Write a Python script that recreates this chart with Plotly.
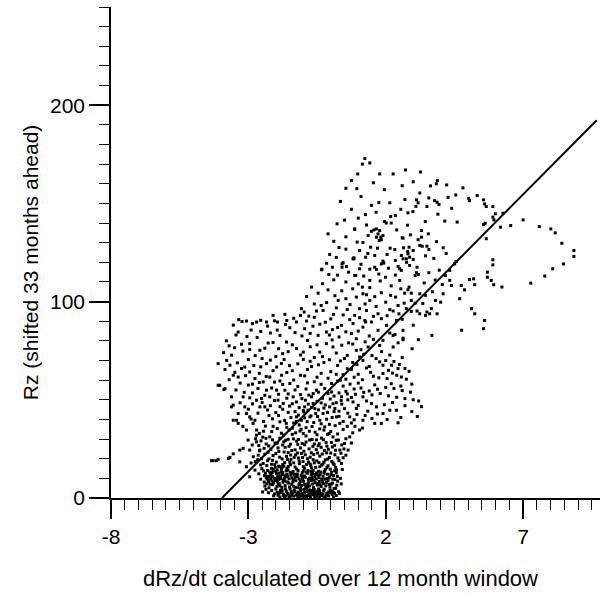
import plotly.graph_objects as go

# ---- data (x = dRz/dt, y = Rz shifted 33 months) ----
pts_base = [
    (-2.05,2.1),(-1.92,1.4),(-1.80,2.8),(-1.71,1.2),(-1.62,3.5),(-1.55,1.9),(-1.47,0.9),(-1.40,2.6),(-1.33,4.1),(-1.26,1.5),
    (-1.18,3.0),(-1.12,0.8),(-1.05,2.2),(-0.98,4.4),(-0.92,1.1),(-0.86,3.3),(-0.80,2.0),(-0.74,0.7),(-0.68,3.8),(-0.62,1.6),
    (-0.56,2.9),(-0.50,0.9),(-0.44,4.6),(-0.38,2.3),(-0.32,1.2),(-0.26,3.6),(-0.20,0.6),(-0.14,2.5),(-0.08,1.0),(-0.02,3.9),
    (0.05,1.8),(0.12,4.8),(0.22,6.5),(0.28,3.2),
    (-2.25,5.2),(-2.12,6.8),(-2.00,4.6),(-1.88,7.5),(-1.78,5.4),(-1.66,6.3),(-1.58,8.2),(-1.50,5.6),(-1.42,7.0),(-1.35,6.0),
    (-1.27,8.8),(-1.20,5.2),(-1.13,7.4),(-1.06,6.4),(-0.99,8.5),(-0.91,5.7),(-0.84,7.2),(-0.77,6.1),(-0.70,9.0),(-0.63,5.3),
    (-0.57,7.8),(-0.49,6.6),(-0.42,8.4),(-0.35,5.9),(-0.27,7.3),(-0.18,6.2),(-0.10,8.9),(-0.03,5.5),(0.06,7.6),(0.15,9.4),
    (-2.55,9.6),(-2.42,8.1),(-2.35,10.5),(-2.28,9.1),(-2.20,11.8),(-2.14,8.6),(-2.06,10.2),(-1.98,12.4),(-1.90,9.5),(-1.83,11.1),
    (-1.75,13.0),(-1.69,10.0),(-1.60,12.0),(-1.52,9.8),(-1.45,11.6),(-1.37,13.5),(-1.30,10.4),(-1.22,12.2),(-1.15,9.7),(-1.08,11.5),
    (-1.00,13.8),(-0.93,10.6),(-0.85,12.6),(-0.78,10.1),(-0.71,11.9),(-0.64,14.0),(-0.58,10.8),(-0.51,12.8),(-0.43,10.3),(-0.36,13.2),
    (-0.28,11.0),(-0.20,14.4),(-0.12,12.1),(-0.05,10.5),(0.03,13.1),(0.10,11.4),(0.20,12.8),(0.35,10.0),
    (-2.38,12.6),(-2.30,14.0),(-2.22,13.2),(-2.16,15.1),(-2.09,13.9),(-2.02,15.6),(-1.95,14.3),(-1.86,15.9),(-1.79,14.6),(-1.71,16.2),
    (-2.45,13.8),(-2.33,7.2),(-2.18,9.9),(-1.94,8.3),(-1.72,9.0),
    (-1.85,0.5),(-1.52,0.3),(-1.20,0.4),(-0.88,0.3),(-0.58,0.4),(-0.25,0.3),(0.10,0.5),(-1.68,0.6),(-1.00,0.6),(-0.40,0.7),
    (0.32,2.4),(0.38,7.2),
    (-2.48,3.1),(-2.36,4.4),(-2.27,2.7),(-2.15,3.8),(-2.08,1.1),(-1.96,5.9),(-1.83,3.9),(-1.74,8.0),(-1.65,4.7),(-1.53,7.6),
    (-1.44,3.2),(-1.36,9.3),(-1.29,5.5),(-1.16,6.8),(-1.09,3.6),(-1.03,9.8),(-0.95,6.9),(-0.88,4.8),(-0.82,9.5),(-0.75,3.0),
    (-0.66,7.1),(-0.60,4.2),(-0.53,9.7),(-0.46,2.0),(-0.39,6.8),(-0.33,9.6),(-0.24,4.5),(-0.16,8.0),(-0.07,3.2),(0.01,7.0),
    (0.09,2.9),(0.18,5.0),(0.25,8.6),
    (-2.30,11.0),(-2.18,12.0),(-2.10,14.6),(-2.00,13.6),(-1.88,12.6),(-1.78,15.4),(-1.62,13.8),(-1.55,16.0),(-2.26,8.3),(-2.08,7.6),
    (-1.97,9.9),(-1.85,6.2),(-1.60,10.8),(-1.38,8.2),(-1.22,10.9),(-0.96,11.2),(-0.68,10.4),(-0.46,11.7),(-0.22,9.6),(0.00,11.9),
    (-1.15,1.9),(-0.95,2.9),(-0.70,1.8),(-0.48,3.4),(-0.17,1.5),(0.05,3.4),(-1.58,2.4),(-1.35,1.0),(-1.77,3.8),(-1.95,3.0),
    (-2.40,6.1),(-2.32,9.8),(-2.21,7.0),(-2.13,10.9),(-2.03,8.9),(-1.91,6.8),(-1.82,9.8),(-1.76,11.9),(-1.67,8.6),(-1.57,11.2),
    (-1.48,13.1),(-1.41,10.2),(-1.32,12.0),(-1.19,13.9),(-1.11,8.4),(-1.01,10.9),(-0.90,13.2),(-0.80,8.0),(-0.72,13.5),(-0.61,9.1),
    (-0.55,12.0),(-0.47,7.4),(-0.39,11.9),(-0.30,8.4),(-0.23,13.6),(-0.13,9.9),(-0.06,7.0),(0.07,9.6),(0.14,13.9),(0.24,11.0),
    (-1.89,2.3),(-1.73,2.0),(-1.64,1.0),(-1.43,1.7),(-1.30,3.1),(-1.22,2.1),(-1.02,1.3),(-0.83,1.2),(-0.77,4.1),(-0.65,2.6),
    (-0.52,2.0),(-0.41,3.6),(-0.29,2.1),(-0.11,1.8),(-0.04,2.7),(0.14,2.4),(0.20,1.3),(-1.48,4.6),(-1.10,4.9),(-0.85,5.9),
]

pts_low = [
    (-2.95,24.4),(-2.90,17.8),(-2.82,21.0),(-2.76,14.2),(-2.70,28.6),(-2.66,19.5),(-2.60,24.0),(-2.55,16.8),(-2.48,31.0),(-2.46,17.6),
    (-2.40,22.3),(-2.35,27.5),(-2.30,19.0),(-2.22,31.1),(-2.18,24.8),(-2.16,17.2),(-2.10,21.6),(-2.03,28.0),(-1.98,18.3),(-1.92,25.5),
    (-1.86,20.8),(-1.80,33.0),(-1.75,17.0),(-1.70,23.4),(-1.64,29.4),(-1.58,19.6),(-1.52,26.3),(-1.46,21.9),(-1.40,32.4),(-1.35,17.9),
    (-1.30,24.5),(-1.24,28.9),(-1.18,20.4),(-1.12,34.1),(-1.07,22.7),(-1.01,18.6),(-0.95,27.1),(-0.90,31.6),(-0.85,20.0),(-0.79,25.0),
    (-0.73,16.5),(-0.68,29.8),(-0.62,22.2),(-0.57,33.5),(-0.51,18.9),(-0.46,26.6),(-0.40,21.3),(-0.34,30.5),(-0.29,17.3),(-0.23,24.2),
    (-0.17,28.3),(-0.11,19.8),(-0.06,32.8),(0.00,22.9),(0.06,26.0),(0.12,17.0),(0.21,14.2),(0.33,24.4),(0.39,17.6),(0.50,27.8),
    (0.63,24.4),(0.08,31.1),(0.69,31.1),(0.45,20.5),(0.28,29.5),(-3.07,15.9),(-2.95,10.8),(-3.31,18.4),(-3.19,25.3),(-3.01,29.5),
    (-2.70,32.0),(-2.58,24.4),(-2.45,34.0),(-3.31,24.4),(-3.73,20.2),(-4.34,19.0),(-4.16,19.0),(-4.28,19.0),(-4.10,19.7),(-3.67,20.7),
    (-3.55,22.5),(-1.90,16.2),(-1.60,15.0),(-1.30,15.8),(-1.00,16.0),(-0.70,15.3),(-0.40,15.9),(-0.10,16.4),(-2.25,19.9),(-1.55,23.1),
    (-0.98,23.8),(-0.35,25.8),(-1.20,27.2),(-0.60,27.5),(-1.75,27.0),(-0.05,20.6),(0.15,22.0),
    (-2.62,12.3),(-2.51,14.9),(-2.41,11.4),(-2.33,16.5),(-2.24,10.7),(-2.13,12.9),(-2.04,17.0),(-1.93,10.9),(-1.81,13.3),(-1.67,11.3),
    (-1.56,14.3),(-1.47,16.9),(-1.39,12.6),(-1.25,14.8),(-1.14,17.5),(-1.04,12.8),(-0.96,15.2),(-0.83,14.0),(-0.75,17.3),(-0.66,12.4),
    (-0.55,15.6),(-0.45,13.6),(-0.33,16.7),(-0.24,12.6),(-0.14,15.4),(-0.02,14.7),(0.08,17.8),(0.18,15.6),(0.30,19.0),(0.42,14.5),
    (-2.75,18.5),(-2.64,21.8),(-2.52,20.0),(-2.43,25.3),(-2.28,23.3),(-2.12,19.2),(-2.00,22.6),(-1.89,23.7),(-1.77,19.9),(-1.66,25.8),
    (-1.61,21.2),(-1.49,18.2),(-1.42,24.2),(-1.33,20.7),(-1.21,22.9),(-1.10,25.5),(-1.03,20.6),(-0.93,22.0),(-0.81,18.3),(-0.71,23.0),
    (-0.64,19.5),(-0.53,24.6),(-0.43,18.0),(-0.31,22.4),(-0.20,19.4),(-0.09,24.8),(0.04,18.6),(0.17,24.3),(0.26,20.4),(0.37,22.8),
    (0.55,21.8),(0.48,25.0),
    (-2.86,27.0),(-2.74,30.2),(-2.62,26.7),(-2.54,29.1),(-2.36,30.4),(-2.26,26.5),(-2.12,29.6),(-1.95,27.9),(-1.86,30.5),(-1.71,28.6),
    (-1.55,29.9),(-1.47,27.4),(-1.36,30.1),(-1.18,29.8),(-1.04,27.8),(-0.90,28.5),(-0.77,29.5),(-0.65,26.3),(-0.52,29.6),(-0.42,27.6),
    (-0.27,29.7),(-0.14,26.4),(0.02,28.3),(0.14,26.8),(0.20,29.4),(0.40,27.0),(0.55,30.2),(0.75,28.0),
    (-1.45,19.7),(-1.15,18.9),(-0.88,17.0),(-0.60,17.9),(-0.25,18.2),(-1.28,22.0),(-0.75,20.8),(-0.48,22.9),(-0.15,23.0),(-1.68,18.0),
]

pts_midlow = [
    (-3.61,46.4),(-3.55,39.6),(-3.37,38.0),(-3.55,47.3),(-3.61,51.5),(-3.19,51.5),(-3.13,46.4),(-3.37,43.0),(-3.43,39.6),(-2.95,41.3),
    (-2.83,38.0),(-3.07,34.6),(-2.70,49.8),(-2.40,46.4),(-2.22,51.5),(-1.97,54.9),(-1.92,49.8),(-1.73,48.1),(-1.67,54.9),(-1.49,58.3),
    (-1.37,51.5),(-1.25,48.9),(-0.95,46.4),(-0.83,44.7),(-1.25,41.3),(-1.07,39.6),(-0.64,53.2),(-0.52,54.9),(-0.10,53.2),(0.03,54.0),
    (0.39,51.5),(0.81,48.9),(1.17,51.5),(1.48,48.1),(1.66,46.4),(2.15,44.7),(2.39,44.7),(0.03,58.3),(-0.64,48.1),(-0.28,43.0),
    (-0.04,46.4),(-0.76,41.3),(-0.40,39.6),(-0.22,36.2),(0.21,41.3),(0.33,38.0),(0.69,41.3),(0.93,45.6),(1.17,39.6),(1.60,38.0),
    (1.84,38.0),(2.45,38.3),(1.90,43.0),(1.05,34.6),(-3.07,43.0),(-2.76,39.6),(-2.58,46.4),(-2.52,50.7),(-2.34,54.9),(-2.70,34.6),
    (-4.10,57.4),(-3.89,55.2),(-4.04,57.4),(-3.85,55.7),
    (-2.10,36.5),(-1.85,38.8),(-1.60,36.0),(-1.45,41.0),(-1.15,37.2),(-0.90,35.8),(-0.62,38.4),(-0.45,44.9),(-0.15,40.1),(0.12,44.0),
    (0.50,45.5),(0.60,36.5),(-2.00,43.5),(-1.75,45.2),(-1.50,46.8),(-1.05,50.6),(-0.80,52.4),(-0.30,50.8),(0.20,48.5),(0.55,54.3),
    (0.85,55.5),(1.10,56.0),(1.40,54.5),(1.70,55.4),(2.00,56.3),(2.30,55.8),(2.60,54.7),(2.90,53.9),(-2.25,42.0),(-1.30,44.0),
    (-0.05,37.5),(0.95,42.5),(1.35,44.2),(-2.85,53.5),(-3.00,57.5),(-2.60,58.8),(-2.05,59.0),(-1.20,56.8),(-0.85,58.6),(-0.35,57.9),
    (0.25,59.5),(0.70,58.0),(0.30,53.5),(0.60,53.0),(0.90,52.8),(1.20,53.8),(1.50,52.5),(1.80,53.2),(2.10,52.0),(2.40,51.3),
    (2.70,50.6),(3.00,50.0),(3.20,49.4),(2.70,47.0),(2.95,44.0),(3.15,41.5),(2.55,41.0),(3.30,46.5),
    (-2.60,32.9),(-2.38,36.6),(-2.15,33.8),(-1.95,35.4),(-1.72,32.1),(-1.52,34.6),(-1.28,33.2),(-1.00,32.9),(-0.78,34.0),(-0.50,32.2),
    (-0.25,34.6),(0.00,33.8),(0.25,32.6),(0.45,34.9),(0.80,33.2),(1.15,35.6),
    (-3.20,36.5),(-2.90,40.2),(-2.65,43.2),(-2.45,39.0),(-2.30,44.8),(-2.12,40.3),(-1.90,42.0),(-1.68,39.5),(-1.55,43.6),(-1.35,38.2),
    (-1.18,42.2),(-0.98,43.8),(-0.86,38.9),(-0.72,41.8),(-0.55,43.0),(-0.35,37.8),(-0.12,43.6),(0.05,41.0),(0.30,44.2),(0.45,39.0),
    (0.75,38.2),(0.88,36.5),(1.25,42.0),(1.50,40.5),(1.70,42.8),(2.05,40.0),
    (-3.30,48.5),(-3.00,45.2),(-2.85,47.9),(-2.50,48.6),(-2.20,47.0),(-2.05,49.6),(-1.85,46.5),(-1.60,50.8),(-1.40,48.0),(-1.15,46.0),
    (-0.92,49.8),(-0.70,46.2),(-0.50,49.2),(-0.20,47.4),(-0.02,50.4),(0.15,45.6),(0.40,47.8),(0.62,50.0),(1.00,47.2),(1.30,49.4),
    (1.95,47.5),(2.25,48.6),
    (-3.45,55.0),(-3.15,53.8),(-2.95,51.0),(-2.65,55.8),(-2.40,52.3),(-2.15,56.0),(-1.90,52.8),(-1.75,57.8),(-1.55,53.0),(-1.30,55.0),
    (-1.10,52.6),(-0.90,55.5),(-0.70,51.5),(-0.45,53.9),(-0.22,55.8),(0.12,51.9),(0.45,57.0),(0.75,51.2),(1.00,58.5),(1.60,57.6),
    (2.20,58.2),(2.55,57.0),
    (-1.40,35.5),(-1.08,35.0),(-0.68,36.4),(-0.40,35.2),(-0.12,32.4),(0.16,36.8),(-0.95,40.8),(-0.48,41.5),(-0.25,45.8),(0.08,48.0),
    (-1.62,38.0),(-1.25,39.0),(-0.82,47.8),(-0.58,45.5),(0.30,41.6),(0.62,43.2),(0.38,49.6),(-0.35,48.4),(-1.00,44.5),(0.85,39.8),
]

pts_mid = [
    (-4.10,68.4),(-3.79,70.1),(-3.61,72.7),(-3.67,67.6),(-3.25,65.9),(-3.13,66.7),(-2.95,64.2),(-3.37,61.6),(-2.76,60.8),(-2.34,68.4),
    (-2.46,59.1),(-2.22,61.6),(-1.97,66.7),(-1.79,62.5),(-3.49,64.0),(-3.55,62.5),(-3.23,89.9),(-3.07,90.1),(-2.70,89.6),(-2.34,89.6),
    (-3.37,84.5),(-1.94,89.6),(-1.49,86.7),(-1.25,89.6),(-0.88,90.1),(-1.85,82.8),(-3.25,78.3),(-2.95,78.6),(-2.68,81.7),(-2.95,75.6),
    (-2.58,75.2),(-2.28,78.9),(-1.61,79.4),(-1.25,76.1),(-1.00,74.3),(-0.40,74.3),(-0.16,78.6),(-0.46,82.8),(-0.16,84.5),(0.06,85.7),
    (0.08,76.9),(0.50,71.0),(0.93,75.2),(1.05,71.8),(1.17,70.1),(1.78,69.3),(1.90,67.6),(2.21,67.6),(2.45,65.9),(2.57,61.6),
    (1.90,63.4),(-1.07,96.4),(-0.97,94.7),(-0.80,92.6),(-1.67,93.5),(-0.52,95.2),(-0.28,95.5),(0.39,87.9),(0.69,90.8),(1.27,89.6),
    (0.87,93.0),(1.30,95.5),(1.72,93.8),(1.84,91.3),(1.48,89.6),(1.24,90.4),(1.17,87.0),(0.81,88.8),(0.75,83.7),(0.93,81.1),
    (1.72,85.4),(2.03,87.9),(2.39,90.4),(2.63,85.4),(2.27,82.8),(1.90,80.3),(2.63,80.6),(1.78,77.7),(2.27,76.9),(1.36,76.9),
    (2.96,76.0),(2.63,81.4),(2.34,83.3),(3.19,80.6),(3.68,82.8),(4.76,85.4),(5.56,86.2),(5.60,90.4),
    (-2.00,72.0),(-1.70,70.5),(-1.40,64.8),(-1.20,68.3),(-0.95,62.2),(-0.70,66.9),(-0.50,61.5),(-0.25,69.0),(0.00,64.3),(0.25,67.5),
    (0.45,62.8),(0.75,65.5),(1.00,63.0),(1.30,66.2),(1.55,62.0),(-1.55,74.5),(-0.75,77.0),(-0.60,71.5),(0.20,73.8),(0.65,79.0),
    (1.25,79.5),(-2.20,84.0),(-1.05,82.5),(-0.65,87.5),(0.30,82.0),(-1.90,76.0),(-2.50,71.0),(-3.00,70.5),(-3.50,76.5),(-3.80,80.0),
    (-3.55,88.0),(-2.90,85.5),(-3.90,74.0),(-1.35,91.5),(-0.20,89.5),(0.10,93.5),(-2.10,93.0),(-0.35,63.5),(0.55,60.5),
    (1.50,72.5),(1.65,71.0),(2.00,70.0),(2.30,69.5),(2.50,68.0),(2.70,66.0),(2.85,64.5),(2.10,65.0),(1.40,67.0),(0.80,69.0),
    (2.60,71.5),(2.40,62.5),(2.75,60.5),(2.95,58.0),
    (-3.70,60.2),(-3.30,58.5),(-3.10,62.3),(-2.85,58.0),(-2.60,63.5),(-2.35,61.9),(-2.10,64.8),(-1.85,59.6),(-1.60,63.9),(-1.35,60.1),
    (-1.10,62.5),(-0.85,65.4),(-0.60,59.2),(-0.10,61.0),(0.20,63.0),(0.35,60.0),(0.60,65.8),(0.85,61.5),(1.15,60.2),(1.45,64.0),
    (1.75,61.2),(2.05,60.8),(2.25,63.6),
    (-3.85,65.4),(-3.40,68.8),(-2.80,67.5),(-2.55,66.8),(-2.20,70.2),(-1.80,68.5),(-1.50,67.4),(-1.00,70.6),(-0.75,69.6),(-0.45,67.8),
    (-0.05,70.4),(0.35,69.8),(0.60,72.6),(0.95,68.0),(1.20,73.2),(1.85,74.5),(2.15,72.8),
    (-3.70,77.5),(-3.20,74.8),(-2.75,72.5),(-2.40,76.3),(-2.10,79.2),(-1.75,73.5),(-1.40,78.0),(-1.10,72.8),(-0.85,80.2),(-0.50,78.0),
    (-0.30,72.0),(0.05,80.5),(0.40,77.8),(0.80,78.4),(1.10,75.5),(1.55,80.8),(2.45,79.0),
    (-3.45,83.0),(-3.05,82.2),(-2.55,84.8),(-2.30,87.5),(-1.95,85.5),(-1.65,88.4),(-1.30,84.2),(-0.95,86.2),(-0.75,83.8),(-0.40,88.5),
    (-0.05,83.0),(0.25,86.8),(0.55,84.6),(1.00,85.0),(1.40,82.5),(2.15,84.0),
    (-3.35,90.8),(-2.85,88.8),(-2.55,90.5),(-2.05,90.2),(-1.60,90.4),(-1.10,93.0),(-0.60,92.0),(-0.35,98.0),(0.00,91.2),(0.45,93.2),
    (0.60,96.0),(1.05,91.8),(1.55,92.5),(2.05,92.8),(2.60,91.0),(3.00,88.0),
]

pts_upper = [
    (1.24,172.9),(1.15,170.0),(1.42,170.6),(0.98,165.0),(1.78,165.0),(2.27,165.0),(2.72,167.0),(3.27,166.0),(0.75,161.6),(0.55,157.7),
    (0.35,151.0),(1.48,149.0),(1.75,150.4),(2.15,150.3),(2.70,152.0),(3.24,155.3),(3.12,151.8),(3.18,150.3),(3.10,148.5),(3.63,158.9),
    (3.88,161.6),(3.84,160.0),(1.26,144.3),(0.23,139.6),(0.87,136.8),(2.18,143.3),(2.35,143.8),(2.20,140.0),(1.96,140.8),(2.02,140.0),
    (2.81,145.2),(2.99,145.8),(2.79,138.9),(3.44,140.8),(3.30,136.2),(1.48,135.8),(1.57,136.5),(1.66,137.0),(1.78,136.2),(1.72,134.5),
    (1.82,132.8),(1.90,133.6),(1.84,131.5),(1.76,131.1),(1.36,133.6),(1.17,130.1),(0.11,130.7),(2.60,132.5),(3.18,131.5),(0.55,126.7),
    (1.05,126.0),(1.70,127.2),(2.16,127.2),(2.33,126.5),(2.65,127.4),(2.85,127.7),(3.00,126.0),(2.81,124.3),(2.87,122.6),(2.75,121.8),
    (2.63,121.8),(2.57,123.5),(3.33,128.2),(3.50,128.2),(3.57,126.5),(3.45,123.3),(-0.04,124.0),(0.45,119.8),(0.41,117.5),(0.57,117.9),
    (0.81,121.8),(1.60,123.5),(1.93,119.6),(1.84,119.2),(2.45,117.9),(2.51,116.7),(3.14,117.5),(-0.32,116.5),(1.42,116.5),(1.66,116.4),
    (4.22,159.4),(4.81,157.9),(3.57,152.8),(3.78,151.4),(3.87,150.6),(3.94,149.4),(4.27,153.1),(4.55,154.3),(5.02,152.6),(5.05,151.4),
    (5.33,154.0),(5.56,151.8),(5.60,149.7),(5.66,148.4),(5.90,148.4),(3.50,148.4),(5.99,144.7),(5.90,143.0),(5.94,141.6),(6.27,145.0),
    (6.55,138.7),(7.00,141.6),(7.59,138.2),(8.01,137.0),(8.17,135.0),(8.41,129.7),(8.85,126.0),(8.85,123.0),(8.47,119.2),(8.08,116.7),
    (7.79,113.0),(7.28,109.4),(5.56,139.2),(5.62,139.9),(6.18,137.9),(5.66,132.0),(5.90,121.3),(5.90,118.7),(5.70,115.0),(5.70,112.4),
    (5.84,110.8),(5.93,108.6),(6.23,107.4),(5.20,111.6),(5.24,108.6),(5.05,111.3),(4.75,108.2),(4.87,106.0),(4.69,101.5),(5.12,96.4),
    (5.24,93.8),(4.56,120.4),(4.33,110.8),(4.09,127.4),(4.51,119.2),(4.33,115.9),(4.17,113.3),(4.06,108.7),(4.39,108.2),(4.09,104.0),
    (3.81,100.6),(3.50,94.7),(3.60,93.8),(3.45,93.0),(3.66,96.4),(4.00,99.7),(3.87,93.8),(0.87,137.0),(3.30,132.8),(2.63,132.3),
    (1.66,132.8),(0.96,130.3),(1.45,127.7),(2.80,125.5),(2.76,120.0),(2.87,118.4),(3.24,128.6),(0.84,122.3),(1.27,122.6),(1.90,120.6),
    (1.05,116.7),(1.60,117.5),(3.12,114.7),(3.19,113.8),(3.07,113.3),(3.57,114.7),(2.57,115.9),(1.99,112.4),(1.42,110.8),(1.15,107.4),
    (0.87,113.3),(2.85,107.4),(2.81,106.0),(2.51,110.8),(2.36,102.3),(2.18,103.2),(2.69,104.3),(2.93,104.3),(3.24,104.0),(2.93,100.6),
    (3.07,99.2),(3.45,103.2),(2.67,99.2),(1.84,104.5),(2.00,99.7),(2.15,95.9),(2.27,95.2),(2.48,93.8),(2.75,96.4),(2.93,95.0),
    (3.14,95.2),(3.24,93.8),(1.42,100.6),(0.93,102.3),(1.05,96.4),
    (-0.34,116.2),(0.06,117.5),(0.41,119.2),(0.84,121.8),(-0.07,113.8),(0.11,111.1),(-0.70,107.4),(-0.46,104.3),(-0.30,109.1),(-0.88,102.6),
    (0.91,113.3),(1.42,107.1),(1.17,104.0),(0.27,100.6),(0.40,105.5),(0.70,98.5),(0.55,110.0),(1.00,109.0),(1.60,102.5),(1.25,98.8),
    (0.20,96.8),(-0.10,106.0),(1.80,110.5),(2.20,108.0),
    (-0.60,98.8),(-0.15,99.5),(0.15,103.0),(0.55,101.5),(0.80,106.5),(1.30,103.5),(1.65,97.5),(2.45,98.0),(2.55,106.5),(3.35,99.0),
    (3.70,105.0),(3.40,109.5),(3.80,111.0),(3.95,116.0),(2.35,113.5),(1.75,114.0),(1.20,113.0),(0.65,115.0),(0.25,113.5),(-0.15,119.5),
    (0.20,122.5),(1.10,119.0),(2.10,117.0),(2.35,121.0),(3.00,121.5),(3.75,122.0),(4.20,124.5),(3.85,130.5),(3.55,134.5),(2.90,134.0),
    (2.40,136.5),(1.30,139.0),(0.55,133.0),(0.30,127.5),(1.00,142.5),(1.65,145.5),(2.55,147.0),(3.90,144.5),(4.40,147.5),(4.60,140.5),
    (0.75,147.0),(1.10,153.5),(1.95,157.0),(2.60,159.0),(0.95,157.5),(1.55,160.5),(3.00,161.0),(4.15,141.0),(1.35,124.5),(2.05,124.0),
    (0.50,141.5),(-0.10,134.5),
]

# regression line
fit_slope = 14.1
fit_x = [-3.96, 9.68]
fit_intercept = -fit_slope * fit_x[0]

x_tick_vals = [-8, -3, 2, 7]
y_tick_vals = [0, 100, 200]

all_pts = pts_base + pts_low + pts_midlow + pts_mid + pts_upper
xs = [p[0] for p in all_pts]
ys = [p[1] for p in all_pts]
fit_y = [fit_slope * v + fit_intercept for v in fit_x]

FONT = "Liberation Sans, Arial, Helvetica, sans-serif"

fig = go.Figure()
fig.add_trace(go.Scatter(x=xs, y=ys, mode="markers",
                         marker=dict(color="black", size=3, symbol="square", line=dict(width=0)),
                         showlegend=False, cliponaxis=False))
fig.add_trace(go.Scatter(x=fit_x, y=fit_y, mode="lines",
                         line=dict(color="black", width=2), showlegend=False, cliponaxis=False))

fig.update_layout(
    width=604, height=598,
    margin=dict(l=111, r=4, t=7, b=100, autoexpand=False),
    paper_bgcolor="white", plot_bgcolor="white",
    font=dict(family=FONT, color="black"),
    xaxis=dict(range=[-8, 9.8], tickmode="array", tickvals=x_tick_vals,
               ticktext=[str(v) for v in x_tick_vals],
               ticks="outside", ticklen=19, tickwidth=1.5, tickcolor="black",
               showline=True, linecolor="black", linewidth=1.5,
               showgrid=False, zeroline=False,
               tickfont=dict(size=21, family=FONT, color="black"),
               minor=dict(tick0=-8, dtick=0.5, ticks="outside", ticklen=10, tickwidth=1.2,
                          tickcolor="black", showgrid=False)),
    yaxis=dict(range=[0, 250], tickmode="array", tickvals=y_tick_vals,
               ticktext=[str(v) for v in y_tick_vals],
               ticks="outside", ticklen=20, tickwidth=1.5, tickcolor="black",
               showline=True, linecolor="black", linewidth=1.5,
               showgrid=False, zeroline=False,
               tickfont=dict(size=21, family=FONT, color="black"),
               minor=dict(tick0=0, dtick=10, ticks="outside", ticklen=10, tickwidth=1.2,
                          tickcolor="black", showgrid=False)),
    annotations=[
        dict(text="dRz/dt calculated over 12 month window", xref="paper", yref="paper",
             x=0.47, y=-0.163, xanchor="center", yanchor="middle", showarrow=False,
             font=dict(size=22, family=FONT, color="black")),
        dict(text="Rz (shifted 33 months ahead)", xref="paper", yref="paper",
             x=-0.166, y=0.48, xanchor="center", yanchor="middle", showarrow=False,
             textangle=-90, font=dict(size=21, family=FONT, color="black")),
    ],
)

fig.write_html("out.html")
